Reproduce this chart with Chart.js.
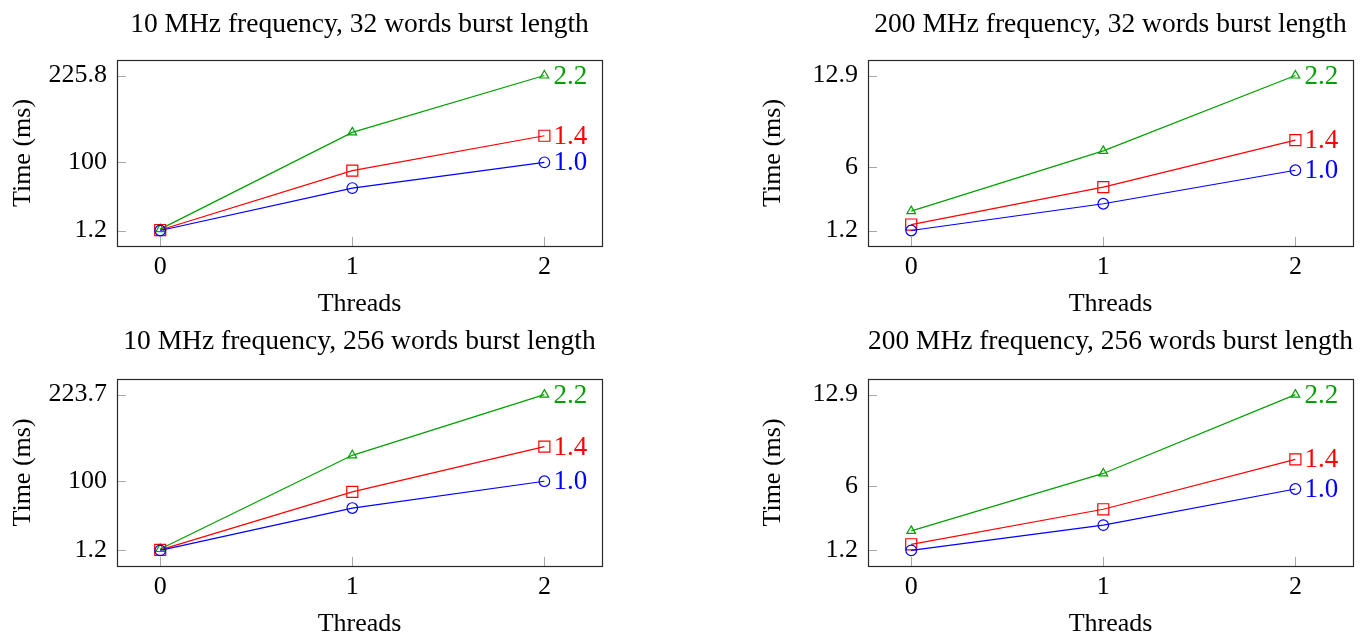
<!DOCTYPE html>
<html>
<head>
<meta charset="utf-8">
<script src="https://cdn.jsdelivr.net/npm/chart.js@4.4.1/dist/chart.umd.min.js"></script>
<style>
  html, body { margin: 0; padding: 0; background: #fff; }
  body { width: 1369px; height: 640px; position: relative; overflow: hidden; }
  .panel { position: absolute; }
</style>
</head>
<body>
<div class="panel" style="left:0px;top:0px"><canvas id="c10m32" width="620" height="320"></canvas></div>
<div class="panel" style="left:750px;top:0px"><canvas id="c200m32" width="619" height="320"></canvas></div>
<div class="panel" style="left:0px;top:319px"><canvas id="c10m256" width="620" height="321"></canvas></div>
<div class="panel" style="left:750px;top:319px"><canvas id="c200m256" width="619" height="321"></canvas></div>

<script>
// x positions (number of threads)
const threads = [0, 1, 2];
const xTicks = [0, 1, 2];
// ratio labels written next to the last point of each line
const endLabels = ['1.0', '1.4', '2.2'];

// 10 MHz frequency, 32 words burst length
const time10m32Blue = [1.2, 62.7, 100];
const time10m32Red = [1.9, 87.9, 138.5];
const time10m32Green = [3.2, 143.4, 225.8];
const yTicks10m32 = [1.2, 100, 225.8];

// 200 MHz frequency, 32 words burst length
const time200m32Blue = [1.2, 3.22, 5.75];
const time200m32Red = [1.65, 4.48, 8.02];
const time200m32Green = [2.66, 7.21, 12.9];
const yTicks200m32 = [1.2, 6, 12.9];

// 10 MHz frequency, 256 words burst length
const time10m256Blue = [1.2, 61.7, 100];
const time10m256Red = [1.9, 84.7, 149.5];
const time10m256Green = [3.2, 137, 223.7];
const yTicks10m256 = [1.2, 100, 223.7];

// 200 MHz frequency, 256 words burst length
const time200m256Blue = [1.2, 3.1, 5.81];
const time200m256Red = [1.66, 4.29, 8.04];
const time200m256Green = [2.67, 6.98, 12.9];
const yTicks200m256 = [1.2, 6, 12.9];

const FONT = "'Liberation Serif', 'Times New Roman', serif";
const BLUE = '#0000ff';
const RED = '#ff0000';
const GREEN = '#00a000';

/**
 * Frame around the plot, inner tick marks and the ratio labels
 */
const pgfLook = {
  id: 'pgfLook',
  afterLayout(chart) {
    // centre the title over the plot box rather than the whole canvas
    if (chart.titleBlock) {
      chart.titleBlock.left = chart.chartArea.left;
      chart.titleBlock.right = chart.chartArea.right;
    }
  },
  beforeDatasetsDraw(chart) {
    const ctx = chart.ctx;
    const area = chart.chartArea;
    const xs = chart.scales.x;
    const ys = chart.scales.y;
    ctx.save();
    ctx.strokeStyle = '#a8a8a8';
    ctx.lineWidth = 1;
    ctx.beginPath();
    xs.ticks.forEach((t, i) => {
      const px = Math.round(xs.getPixelForTick(i)) + 0.5;
      ctx.moveTo(px, area.bottom);
      ctx.lineTo(px, area.bottom - 9);
    });
    ys.ticks.forEach((t, i) => {
      const py = Math.round(ys.getPixelForTick(i)) + 0.5;
      ctx.moveTo(area.left, py);
      ctx.lineTo(area.left + 9, py);
    });
    ctx.stroke();
    ctx.restore();
  },
  afterDraw(chart) {
    const ctx = chart.ctx;
    const area = chart.chartArea;
    ctx.save();
    ctx.strokeStyle = '#2a2a2a';
    ctx.lineWidth = 1.2;
    ctx.strokeRect(Math.round(area.left) + 0.5, Math.round(area.top) + 0.5,
      Math.round(area.right - area.left), Math.round(area.bottom - area.top));

    // labels at the end of each line
    ctx.font = '27px ' + FONT;
    ctx.textAlign = 'left';
    ctx.textBaseline = 'middle';
    chart.data.datasets.forEach((ds, i) => {
      const meta = chart.getDatasetMeta(i);
      const last = meta.data[meta.data.length - 1];
      ctx.fillStyle = ds.borderColor;
      ctx.fillText(endLabels[i], last.x + 9, last.y + 1);
    });
    ctx.restore();
  }
};

function toPoints(values) {
  return threads.map((t, i) => ({ x: t, y: values[i] }));
}

function makeChart(canvasId, title, blue, red, green, yTicks, yAxisWidth, padRight, titleTop) {
  const canvas = document.getElementById(canvasId);
  const span = yTicks[yTicks.length - 1] - yTicks[0];

  const lineStyle = (color, style, radius) => ({
    borderColor: color,
    backgroundColor: 'rgba(0,0,0,0)',
    pointBorderColor: color,
    pointBackgroundColor: 'rgba(0,0,0,0)',
    borderWidth: 1.2,
    pointBorderWidth: 1.2,
    pointStyle: style,
    pointRadius: radius,
    pointHoverRadius: radius,
    tension: 0,
    fill: false
  });

  return new Chart(canvas, {
    type: 'line',
    data: {
      datasets: [
        Object.assign({ label: 'blue', data: toPoints(blue) }, lineStyle(BLUE, 'circle', 5.3)),
        Object.assign({ label: 'red', data: toPoints(red) }, lineStyle(RED, 'rect', 7.8)),
        Object.assign({ label: 'green', data: toPoints(green) }, lineStyle(GREEN, 'triangle', 5))
      ]
    },
    options: {
      responsive: false,
      animation: false,
      layout: { padding: { left: 0, right: padRight, top: 0, bottom: 0 } },
      plugins: {
        legend: { display: false },
        tooltip: { enabled: false },
        title: {
          display: true,
          text: title,
          color: '#000',
          font: { family: FONT, size: 27.5, weight: 'normal', lineHeight: 1.2 },
          padding: { top: titleTop, bottom: 60 - 33 - titleTop }
        }
      },
      scales: {
        x: {
          type: 'linear',
          min: -0.225,
          max: 2.3,
          afterBuildTicks: (scale) => { scale.ticks = xTicks.map(v => ({ value: v })); },
          afterFit: (scale) => { scale.height = 74; },
          grid: { display: false, drawTicks: false },
          border: { display: false },
          ticks: {
            color: '#000',
            padding: 6,
            font: { family: FONT, size: 26 },
            callback: (v) => String(v)
          },
          title: {
            display: true,
            text: 'Threads',
            color: '#000',
            font: { family: FONT, size: 26, lineHeight: 1.2 },
            padding: { top: 6, bottom: 0 }
          }
        },
        y: {
          type: 'linear',
          min: yTicks[0] - 0.1 * span,
          max: yTicks[yTicks.length - 1] + 0.1 * span,
          afterBuildTicks: (scale) => { scale.ticks = yTicks.map(v => ({ value: v })); },
          afterFit: (scale) => { scale.width = yAxisWidth; },
          grid: { display: false, drawTicks: false },
          border: { display: false },
          ticks: {
            color: '#000',
            padding: 10,
            font: { family: FONT, size: 26 },
            callback: (v) => String(v)
          },
          title: {
            display: true,
            text: 'Time (ms)',
            color: '#000',
            font: { family: FONT, size: 26, lineHeight: 1.2 },
            padding: { top: 8, bottom: 0 }
          }
        }
      }
    },
    plugins: [pgfLook]
  });
}

makeChart('c10m32', '10 MHz frequency, 32 words burst length',
  time10m32Blue, time10m32Red, time10m32Green, yTicks10m32, 117, 18, 8);
makeChart('c200m32', '200 MHz frequency, 32 words burst length',
  time200m32Blue, time200m32Red, time200m32Green, yTicks200m32, 118, 16, 8);
makeChart('c10m256', '10 MHz frequency, 256 words burst length',
  time10m256Blue, time10m256Red, time10m256Green, yTicks10m256, 117, 18, 6);
makeChart('c200m256', '200 MHz frequency, 256 words burst length',
  time200m256Blue, time200m256Red, time200m256Green, yTicks200m256, 118, 16, 6);
</script>
</body>
</html>
